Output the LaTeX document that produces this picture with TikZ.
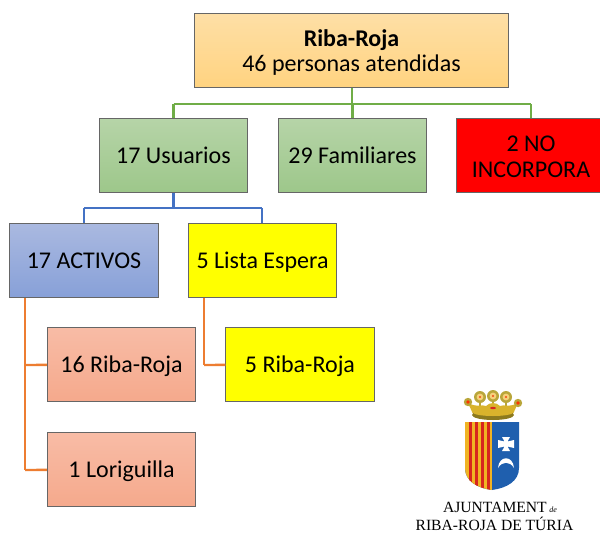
\documentclass[tikz,border=0pt]{standalone}
\usepackage{fontspec}
\setmainfont{Carlito}
\newfontfamily\crestfont{Liberation Serif}
\definecolor{rootTop}{HTML}{FEDFA6}
\definecolor{rootBot}{HTML}{FFD380}
\definecolor{greenTop}{HTML}{B6D4A8}
\definecolor{greenBot}{HTML}{9DC78A}
\definecolor{blueTop}{HTML}{AAB9E0}
\definecolor{blueBot}{HTML}{87A0D8}
\definecolor{salmonTop}{HTML}{F8BCA6}
\definecolor{salmonBot}{HTML}{F5A98C}
\definecolor{pureRed}{HTML}{FF0000}
\definecolor{pureYellow}{HTML}{FFFF00}
\definecolor{greenLine}{HTML}{70AD47}
\definecolor{blueLine}{HTML}{4472C4}
\definecolor{orangeLine}{HTML}{ED7D31}
\definecolor{shieldBlue}{HTML}{1F5FAE}
\definecolor{shieldGold}{HTML}{F0B323}
\definecolor{shieldRed}{HTML}{D7261E}
\definecolor{crownGold}{HTML}{D9B32C}
\definecolor{crownDark}{HTML}{8C7A1E}
\definecolor{crownLeaf}{HTML}{B9A63A}
\tikzset{
	orgbox/.style = {draw = black!60, line width = 0.6pt, minimum width = 111.5pt, minimum height = 56pt, align = center, inner sep = 0pt, font = \fontsize{18}{19}\selectfont},
	oneline/.style = {text height = 12pt, text depth = 0pt},
	rootbox/.style = {orgbox, minimum width = 236pt, top color = rootTop, bottom color = rootBot},
	greenbox/.style = {orgbox, oneline, top color = greenTop, bottom color = greenBot},
	bluebox/.style = {orgbox, oneline, top color = blueTop, bottom color = blueBot},
	salmonbox/.style = {orgbox, oneline, top color = salmonTop, bottom color = salmonBot},
	redbox/.style = {orgbox, fill = pureRed},
	yellowbox/.style = {orgbox, oneline, fill = pureYellow},
	greenlink/.style = {greenLine, line width = 1.7pt},
	bluelink/.style = {blueLine, line width = 1.8pt},
	orangelink/.style = {orangeLine, line width = 1.8pt},
	crestname/.style = {anchor = base, inner sep = 0pt, font = \crestfont\fontsize{11.7}{13}\selectfont}
}
\begin{document}
\begin{tikzpicture}[x = 0.75pt, y = -0.75pt]
		\useasboundingbox (0, 0) rectangle (600, 533);
		\clip (0, 0) rectangle (600, 533);
		%%%%%%%%%%%%%
		\coordinate (gbus) at (352, 104);
		\coordinate (gleft) at (173.5, 104);
		\coordinate (gmid) at (352.5, 104);
		\coordinate (gright) at (531, 104);
		\coordinate (bbus) at (173.5, 208);
		\coordinate (bleft) at (84, 208);
		\coordinate (bright) at (262, 208);
		\coordinate (aout) at (25, 298);
		\coordinate (abend) at (25, 365);
		\coordinate (alow) at (25, 470);
		\coordinate (lout) at (204, 298);
		\coordinate (lbend) at (204, 365);
		%%%%%%%%%%%%%
		\draw [greenlink] (352, 88) to (gbus);
		\draw [greenlink] (gleft) to (gright);
		\draw [greenlink] (gleft) to (173.5, 118);
		\draw [greenlink] (gmid) to (352.5, 118);
		\draw [greenlink] (gright) to (531, 118);
		\draw [bluelink] (173.5, 193) to (bbus);
		\draw [bluelink] (bleft) to (bright);
		\draw [bluelink] (bleft) to (84, 223);
		\draw [bluelink] (bright) to (262, 223);
		\draw [orangelink] (aout) to (alow);
		\draw [orangelink] (lout) to (lbend);
		%%%%%%%%%%%%%
		\node [rootbox] (root) at (351.5, 50.5) {\rule{0pt}{16pt}\textbf{Riba-Roja}\\46 personas atendidas};
		\node [greenbox] (usuarios) at (173.5, 155.5) {17 Usuarios};
		\node [greenbox] (familiares) at (352.5, 155.5) {29 Familiares};
		\node [redbox] (noinc) at (531, 155.5) {\rule{0pt}{13.5pt}2 NO\\INCORPORA};
		\node [bluebox] (activos) at (84, 260.5) {17 ACTIVOS};
		\node [yellowbox] (lista) at (262.5, 260.5) {5 Lista Espera};
		\node [salmonbox] (ribaA) at (121.5, 364.5) {16 Riba-Roja};
		\node [yellowbox] (ribaL) at (300, 364.5) {5 Riba-Roja};
		\node [salmonbox] (lorig) at (121.5, 469.5) {1 Loriguilla};
		%%%%%%%%%%%%%
		\draw [orangelink] (abend) to (ribaA);
		\draw [orangelink] (alow) to (lorig);
		\draw [orangelink] (lbend) to (ribaL);
		%%%%%%%%%%%%% crest
		\fill [shieldBlue] (465, 422) -- (519, 422) -- (519, 468) .. controls (519, 481) and (507, 488) .. (492, 490) .. controls (477, 488) and (465, 481) .. (465, 468) -- cycle;
		\begin{scope}
			\clip (465, 422) -- (492, 422) -- (492, 490) .. controls (477, 488) and (465, 481) .. (465, 468) -- cycle;
			\fill [shieldGold] (465, 422) rectangle (492, 490);
			\foreach \sx in {469, 475, 481, 487}
				\fill [shieldRed] (\sx, 422) rectangle (\sx + 3, 490);
		\end{scope}
		\fill [white] (502, 437) -- (510, 437) -- (507.5, 441.5) -- (514, 440) -- (514, 448) -- (507.5, 446.5) -- (510, 451) -- (502, 451) -- (504.5, 446.5) -- (498, 448) -- (498, 440) -- (504.5, 441.5) -- cycle;
		\fill [white] (498, 468) .. controls (499, 455) and (513, 455) .. (514, 468) .. controls (510, 461) and (502, 461) .. cycle;
		%%%%%%%%%%%%% crown
		\foreach \lx in {480, 493, 506}
			\draw [crownLeaf, line width = 1.5pt] (\lx, 400) to (\lx, 410);
		\fill [crownGold] (468, 403) .. controls (478, 408) and (482, 404) .. (486, 406) .. controls (490, 402) and (496, 402) .. (500, 406) .. controls (504, 404) and (508, 408) .. (518, 403) -- (513, 414) -- (473, 414) -- cycle;
		\fill [crownDark] (493, 415) ellipse (21 and 5);
		\fill [crownGold] (493, 412.5) ellipse (20 and 3.5);
		\fill [shieldRed] (493, 408) ellipse (3 and 1.2);
		\foreach \fx/\fy in {480/397, 493/396, 506/397}
		{
			\fill [crownLeaf] (\fx, \fy) circle (6);
			\fill [shieldGold!60!white] (\fx, \fy) circle (3.4);
			\fill [crownGold!40!red] (\fx, \fy) circle (1.2);
		}
		\foreach \fx/\fy in {468/402, 518/403}
		{
			\fill [crownLeaf] (\fx, \fy) circle (4.2);
			\fill [red!60!orange] (\fx, \fy) circle (1.8);
		}
		%%%%%%%%%%%%%
		\node [crestname] (ajunt) at (500, 512) {AJUNTAMENT\,{\itshape\fontsize{6}{7}\selectfont de}};
		\node [crestname] (ribaname) at (494.5, 530) {RIBA-ROJA DE TÚRIA};
\end{tikzpicture}
\end{document}
